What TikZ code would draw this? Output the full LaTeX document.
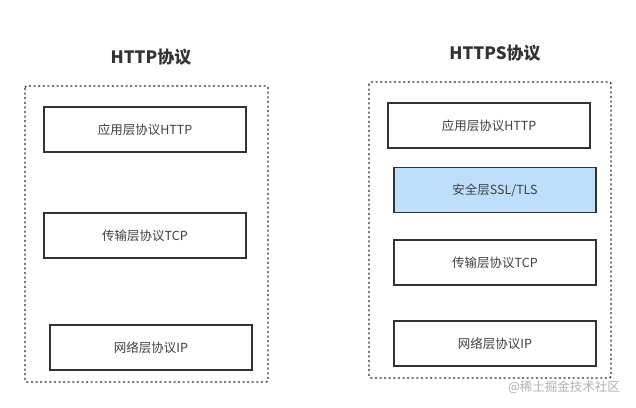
\documentclass[tikz,border=0pt]{standalone}
\usepackage{fontspec}
\setmainfont{Noto Sans CJK SC}
\newfontfamily\cjk{Noto Sans CJK SC}
\begin{document}
\begin{tikzpicture}[x=1pt,y=-1pt,
  layer/.style={draw=black!80,line width=1.5pt,minimum width=202pt,minimum height=45pt,inner sep=0pt,font=\cjk\fontsize{12.5}{14}\selectfont,text=black!75},
  frame/.style={draw=black!80,line width=1.4pt,dash pattern=on 2pt off 2.6pt,rounded corners=2pt},
  title/.style={font=\cjk\bfseries\fontsize{17}{20}\selectfont,text=black!80},
  wmark/.style={font=\cjk\fontsize{12.5}{14}\selectfont,text=black!30}]
\useasboundingbox (0,0) rectangle (636,407);
\fill[white] (0,0) rectangle (636,407);
% left
\node[title] (t1) at (151,57) {HTTP协议};
\draw[frame] (25,86) rectangle (268,382);
\node[layer] (a1) at (145,129.5) {应用层协议HTTP};
\node[layer] (b1) at (145,235.5) {传输层协议TCP};
\node[layer] (c1) at (151,347.5) {网络层协议IP};
% right
\node[title] (t2) at (495,53) {HTTPS协议};
\draw[frame] (369,82) rectangle (611,378);
\node[layer] (a2) at (489,125.5) {应用层协议HTTP};
\node[layer,fill={rgb,255:red,189;green,223;blue,251}] (s2) at (495,190) {安全层SSL/TLS};
\node[layer] (b2) at (495,262.5) {传输层协议TCP};
\node[layer] (c2) at (495,343.5) {网络层协议IP};
\node[wmark] (wm) at (564,387) {@稀土掘金技术社区};
\end{tikzpicture}
\end{document}
